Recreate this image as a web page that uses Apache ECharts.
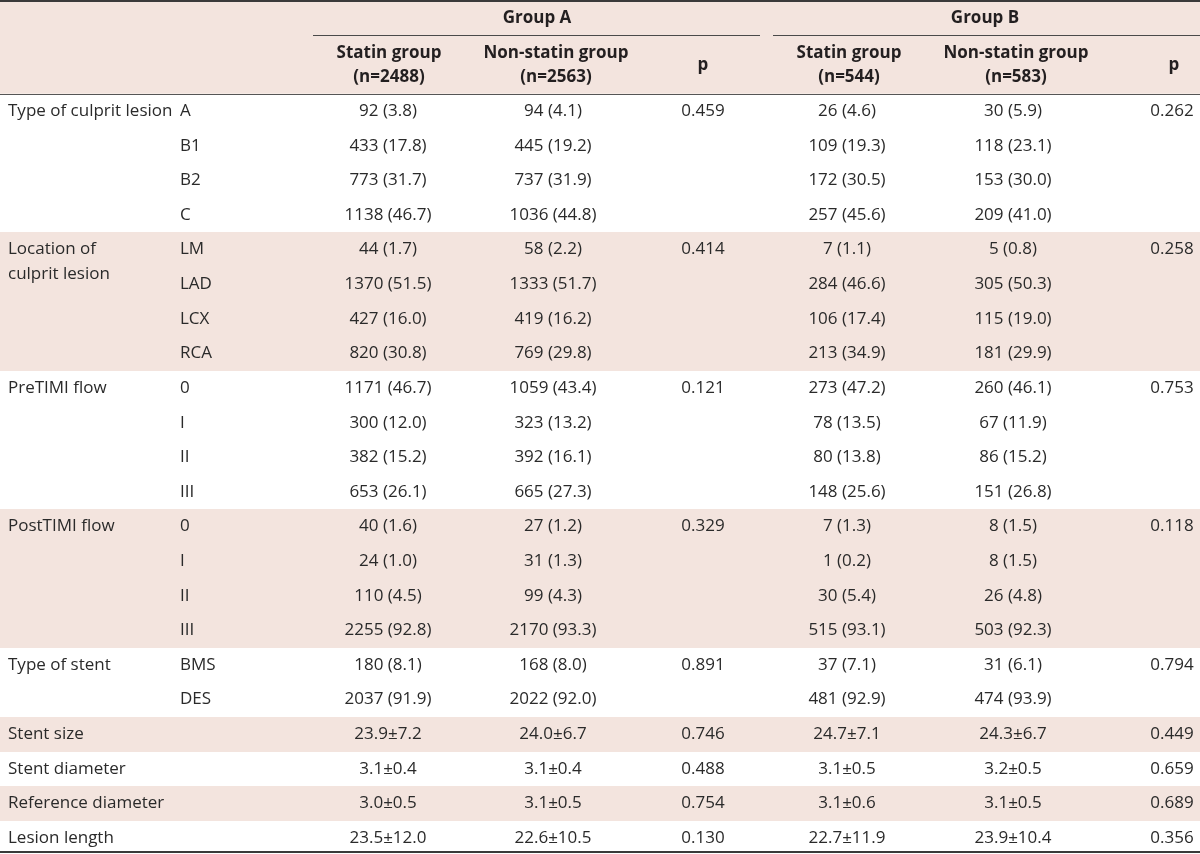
<!DOCTYPE html>
<html>
<head>
<meta charset="utf-8">
<script src="https://cdn.jsdelivr.net/npm/echarts@6/dist/echarts.min.js"></script>
<style>
html,body{margin:0;padding:0;background:#fff;}
#chart{width:1200px;height:854px;}
</style>
</head>
<body>
<div id="chart"></div>
<script>
// ---------- DATA ----------
const groupHeaders = ['Group A', 'Group B'];
const columnHeaders = ['Statin group\n(n=2488)', 'Non-statin group\n(n=2563)', 'p',
                       'Statin group\n(n=544)', 'Non-statin group\n(n=583)', 'p'];
const groupLabels = ['Type of culprit lesion', 'Location of\nculprit lesion', 'PreTIMI flow', 'PostTIMI flow',
                     'Type of stent', 'Stent size', 'Stent diameter', 'Reference diameter', 'Lesion length'];
const groupSizes = [4, 4, 4, 4, 2, 1, 1, 1, 1];
const subLabels = ['A', 'B1', 'B2', 'C', 'LM', 'LAD', 'LCX', 'RCA', '0', 'I', 'II', 'III',
                   '0', 'I', 'II', 'III', 'BMS', 'DES', '', '', '', ''];
const statinA = ['92 (3.8)', '433 (17.8)', '773 (31.7)', '1138 (46.7)',
                 '44 (1.7)', '1370 (51.5)', '427 (16.0)', '820 (30.8)',
                 '1171 (46.7)', '300 (12.0)', '382 (15.2)', '653 (26.1)',
                 '40 (1.6)', '24 (1.0)', '110 (4.5)', '2255 (92.8)',
                 '180 (8.1)', '2037 (91.9)',
                 '23.9\u00b17.2', '3.1\u00b10.4', '3.0\u00b10.5', '23.5\u00b112.0'];
const nonStatinA = ['94 (4.1)', '445 (19.2)', '737 (31.9)', '1036 (44.8)',
                    '58 (2.2)', '1333 (51.7)', '419 (16.2)', '769 (29.8)',
                    '1059 (43.4)', '323 (13.2)', '392 (16.1)', '665 (27.3)',
                    '27 (1.2)', '31 (1.3)', '99 (4.3)', '2170 (93.3)',
                    '168 (8.0)', '2022 (92.0)',
                    '24.0\u00b16.7', '3.1\u00b10.4', '3.1\u00b10.5', '22.6\u00b110.5'];
const pA = ['0.459', '0.414', '0.121', '0.329', '0.891', '0.746', '0.488', '0.754', '0.130'];
const statinB = ['26 (4.6)', '109 (19.3)', '172 (30.5)', '257 (45.6)',
                 '7 (1.1)', '284 (46.6)', '106 (17.4)', '213 (34.9)',
                 '273 (47.2)', '78 (13.5)', '80 (13.8)', '148 (25.6)',
                 '7 (1.3)', '1 (0.2)', '30 (5.4)', '515 (93.1)',
                 '37 (7.1)', '481 (92.9)',
                 '24.7\u00b17.1', '3.1\u00b10.5', '3.1\u00b10.6', '22.7\u00b111.9'];
const nonStatinB = ['30 (5.9)', '118 (23.1)', '153 (30.0)', '209 (41.0)',
                    '5 (0.8)', '305 (50.3)', '115 (19.0)', '181 (29.9)',
                    '260 (46.1)', '67 (11.9)', '86 (15.2)', '151 (26.8)',
                    '8 (1.5)', '8 (1.5)', '26 (4.8)', '503 (92.3)',
                    '31 (6.1)', '474 (93.9)',
                    '24.3\u00b16.7', '3.2\u00b10.5', '3.1\u00b10.5', '23.9\u00b110.4'];
const pB = ['0.262', '0.258', '0.753', '0.118', '0.794', '0.449', '0.659', '0.689', '0.356'];

// ---------- LAYOUT / STYLE ----------
const W = 1200, H = 854;
const HEADER_H = 93.8, ROW_H = 34.62;
const SHADE = '#f3e4de';
const TXT = '#2a2a2a';
const HEAD_TXT = '#231f20';
const FONT = '17px "Open Sans", "Noto Sans", sans-serif';
const BFONT = 'bold 17px "Open Sans", "Noto Sans", sans-serif';
const X_LABEL = 8, X_SUB = 180;
const COL_X = [388, 553, 703, 847, 1013, 1172];
const HEAD_X = [389, 556, 703, 849, 1016, 1174];

// row → group mapping
const rowGroup = [], rowFirst = [], groupStart = [];
groupSizes.forEach((n, g) => {
  groupStart.push(rowGroup.length);
  for (let k = 0; k < n; k++) { rowGroup.push(g); rowFirst.push(k === 0); }
});
const nRows = rowGroup.length;

function txt(x, y, text, align, font, fill, vAlign, lh) {
  return {
    type: 'text', x: x, y: y,
    style: {
      text: text, x: 0, y: 0, font: font || FONT, fill: fill || TXT,
      align: align, textAlign: align,
      verticalAlign: vAlign || 'middle', textVerticalAlign: vAlign || 'middle',
      lineHeight: lh || 24
    }
  };
}

function renderBand(params, api) {
  const g = api.value(0);
  if (g % 2 === 0) return { type: 'group', children: [] };
  const top = HEADER_H + groupStart[g] * ROW_H;
  const a = api.coord([0, top]);
  const b = api.coord([W, top + groupSizes[g] * ROW_H]);
  return { type: 'rect', shape: { x: a[0], y: Math.round(a[1]), width: b[0] - a[0], height: Math.round(b[1]) - Math.round(a[1]) },
           style: { fill: SHADE } };
}

function renderRow(params, api) {
  const i = api.value(0);
  const g = rowGroup[i];
  const top = HEADER_H + i * ROW_H;
  const cy = api.coord([0, top + ROW_H / 2])[1];
  const X = v => api.coord([v, 0])[0];
  const ch = [];
  if (rowFirst[i]) {
    ch.push(txt(X(X_LABEL), cy - 12.5, groupLabels[g], 'left', FONT, TXT, 'top', 25));
    ch.push(txt(X(COL_X[2]), cy, pA[g], 'center'));
    ch.push(txt(X(COL_X[5]), cy, pB[g], 'center'));
  }
  if (subLabels[i]) ch.push(txt(X(X_SUB), cy, subLabels[i], 'left'));
  ch.push(txt(X(COL_X[0]), cy, statinA[i], 'center'));
  ch.push(txt(X(COL_X[1]), cy, nonStatinA[i], 'center'));
  ch.push(txt(X(COL_X[3]), cy, statinB[i], 'center'));
  ch.push(txt(X(COL_X[4]), cy, nonStatinB[i], 'center'));
  return { type: 'group', children: ch };
}

function renderHeader(params, api) {
  const P = (x, y) => api.coord([x, y]);
  const ch = [];
  const h0 = P(0, 0), h1 = P(W, HEADER_H);
  ch.push({ type: 'rect', shape: { x: h0[0], y: h0[1], width: h1[0] - h0[0], height: h1[1] - h0[1] }, style: { fill: SHADE } });
  const line = (x1, y1, x2, y2, w, c) => {
    const p = P(x1, y1), q = P(x2, y2);
    return { type: 'line', shape: { x1: p[0], y1: p[1], x2: q[0], y2: q[1] }, style: { stroke: c, lineWidth: w } };
  };
  ch.push(line(0, 1, W, 1, 2, '#3a3a3a'));
  ch.push(line(313, 35.5, 760, 35.5, 1, '#4a4a4a'));
  ch.push(line(773, 35.5, W, 35.5, 1, '#4a4a4a'));
  ch.push(line(0, 94.5, W, 94.5, 1, '#555'));
  const bottom = Math.min(HEADER_H + nRows * ROW_H, H) - 2;
  ch.push(line(0, bottom, W, bottom, 2, '#3a3a3a'));
  const gA = P(537, 18), gB = P(985, 18);
  ch.push(txt(gA[0], gA[1], groupHeaders[0], 'center', BFONT, HEAD_TXT));
  ch.push(txt(gB[0], gB[1], groupHeaders[1], 'center', BFONT, HEAD_TXT));
  columnHeaders.forEach((t, k) => {
    const p = P(HEAD_X[k], 65.5);
    ch.push(txt(p[0], p[1], t, 'center', BFONT, HEAD_TXT, 'middle', 24));
  });
  return { type: 'group', children: ch };
}

const chart = echarts.init(document.getElementById('chart'), null, { renderer: 'canvas' });
chart.setOption({
  animation: false,
  backgroundColor: '#ffffff',
  grid: { left: 0, right: 0, top: 0, bottom: 0 },
  xAxis: { type: 'value', min: 0, max: W, show: false },
  yAxis: { type: 'value', min: 0, max: H, inverse: true, show: false },
  series: [
    { type: 'custom', coordinateSystem: 'cartesian2d', clip: false, silent: true,
      renderItem: renderBand, data: groupSizes.map((n, g) => [g]), z: 1 },
    { type: 'custom', coordinateSystem: 'cartesian2d', clip: false, silent: true,
      renderItem: renderRow, data: rowGroup.map((g, i) => [i]), z: 2 },
    { type: 'custom', coordinateSystem: 'cartesian2d', clip: false, silent: true,
      renderItem: renderHeader, data: [[0]], z: 3 }
  ]
});
</script>
</body>
</html>
